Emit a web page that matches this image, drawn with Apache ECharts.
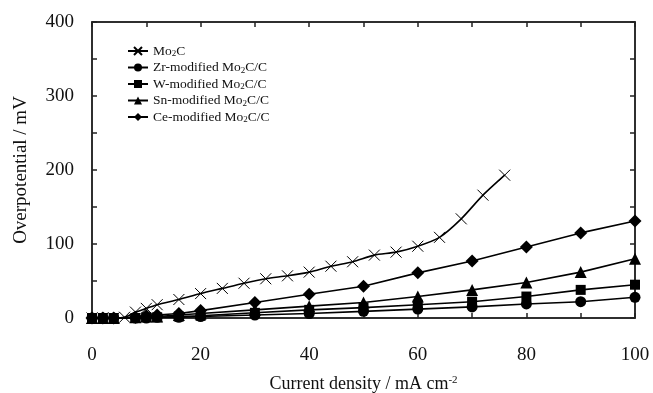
<!DOCTYPE html>
<html>
<head>
<meta charset="utf-8">
<script src="https://cdn.jsdelivr.net/npm/echarts@6/dist/echarts.min.js"></script>
<style>
  html, body { margin: 0; padding: 0; background: #fff; }
  #chart { width: 653px; height: 393px; }
</style>
</head>
<body>
<div id="chart"></div>
<script>
// current density (mA cm-2) and overpotential (mV)
const moX = [0, 2, 4, 6, 8, 10, 12, 16, 20, 24, 28, 32, 36, 40, 44, 48, 52, 56, 60, 64, 68, 72, 76];
const moY = [0, 0, 0, 1, 8, 13, 18, 25, 33, 40, 47, 53, 57, 62, 70, 76, 85, 89, 97, 109, 134, 166, 193];

const modX = [0, 2, 4, 8, 10, 12, 16, 20, 30, 40, 50, 60, 70, 80, 90, 100];
const zrY = [0, 0, 0, 0, 0, 1, 1, 2, 4, 6, 9, 12, 15, 19, 22, 28];
const wY  = [0, 0, 0, 0, 1, 1, 2, 3, 7, 11, 14, 18, 22, 29, 38, 45];
const snY = [0, 0, 0, 1, 2, 2, 4, 6, 11, 16, 21, 29, 38, 48, 62, 80];
const ceY = [0, 0, 0, 1, 3, 4, 6, 10, 21, 32, 43, 61, 77, 96, 115, 131];

const xTicks = [0, 20, 40, 60, 80, 100];
const yTicks = [0, 100, 200, 300, 400];

const pair = (xs, ys) => xs.map((x, i) => [x, ys[i]]);

const chartDom = document.getElementById('chart');
const chart = echarts.init(chartDom);

const font = 'Liberation Serif';
const crossPath = 'path://M0,0L10,10M10,0L0,10';

const mkSeries = (name, data, symbol, size, smooth) => ({
  name,
  type: 'line',
  data,
  symbol,
  symbolSize: size,
  smooth: smooth || false,
  xAxisIndex: 0,
  yAxisIndex: 0,
  lineStyle: { color: '#000', width: 1.6 },
  itemStyle: {
    color: '#000',
    borderColor: '#000',
    borderWidth: symbol === crossPath ? 1 : 0,
  },
  emphasis: { disabled: true },
  animation: false,
});

const rich = {
  n: { fontFamily: font, fontSize: 13.5, color: '#111' },
  s: { fontFamily: font, fontSize: 9, color: '#111', verticalAlign: 'bottom', padding: [6, 0, 0, 0] },
};

const legendNames = {
  'Mo2C': '{n|Mo}{s|2}{n|C}',
  'Zr-modified Mo2C/C': '{n|Zr-modified Mo}{s|2}{n|C/C}',
  'W-modified Mo2C/C': '{n|W-modified Mo}{s|2}{n|C/C}',
  'Sn-modified Mo2C/C': '{n|Sn-modified Mo}{s|2}{n|C/C}',
  'Ce-modified Mo2C/C': '{n|Ce-modified Mo}{s|2}{n|C/C}',
};

const tickLabel = (list) => (v) => (list.includes(v) ? String(v) : '');

const tickStyle = { show: true, inside: true, length: 5, lineStyle: { color: '#222', width: 1.5 } };
const lineStyle = { show: true, onZero: false, lineStyle: { color: '#222', width: 1.5 } };

const option = {
  backgroundColor: '#fff',
  animation: false,
  grid: {
    left: 92, right: 18, top: 22, bottom: 75, containLabel: false,
    outerBoundsMode: 'none',
    show: true, borderColor: '#222', borderWidth: 1.5, backgroundColor: 'transparent',
  },
  legend: {
    orient: 'vertical',
    left: 122,
    top: 39,
    itemWidth: 20,
    itemHeight: 10,
    itemGap: 2,
    data: Object.keys(legendNames),
    formatter: (name) => legendNames[name],
    textStyle: { rich },
  },
  xAxis: [
    {
      type: 'value',
      min: 0,
      max: 100,
      interval: 10,
      name: 'Current density / mA cm{sup|-2}',
      nameLocation: 'middle',
      nameGap: 57,
      nameTextStyle: {
        fontFamily: font,
        fontSize: 18,
        color: '#111',
        rich: { sup: { fontFamily: font, fontSize: 11, color: '#111', verticalAlign: 'top', padding: [0, 0, 8, 0] } },
      },
      axisLine: lineStyle,
      axisTick: tickStyle,
      axisLabel: {
        formatter: tickLabel(xTicks),
        fontFamily: font,
        fontSize: 19,
        color: '#111',
        margin: 28,
      },
      splitLine: { show: false },
    },
    {
      type: 'value',
      position: 'top',
      min: 0,
      max: 100,
      interval: 10,
      axisLine: lineStyle,
      axisTick: tickStyle,
      axisLabel: { show: false },
      splitLine: { show: false },
    },
  ],
  yAxis: [
    {
      type: 'value',
      min: 0,
      max: 400,
      interval: 50,
      name: 'Overpotential / mV',
      nameLocation: 'middle',
      nameGap: 61,
      nameTextStyle: { fontFamily: font, fontSize: 19, color: '#111' },
      axisLine: lineStyle,
      axisTick: tickStyle,
      axisLabel: {
        formatter: tickLabel(yTicks),
        fontFamily: font,
        fontSize: 19,
        color: '#111',
        margin: 18,
      },
      splitLine: { show: false },
    },
    {
      type: 'value',
      position: 'right',
      min: 0,
      max: 400,
      interval: 50,
      axisLine: lineStyle,
      axisTick: tickStyle,
      axisLabel: { show: false },
      splitLine: { show: false },
    },
  ],
  series: [
    mkSeries('Mo2C', pair(moX, moY), crossPath, 11, 0.25),
    mkSeries('Zr-modified Mo2C/C', pair(modX, zrY), 'circle', 11),
    mkSeries('W-modified Mo2C/C', pair(modX, wY), 'rect', 10),
    mkSeries('Sn-modified Mo2C/C', pair(modX, snY), 'triangle', 12),
    mkSeries('Ce-modified Mo2C/C', pair(modX, ceY), 'diamond', 13),
    // empty series so the mirrored top/right axes are laid out
    { type: 'line', data: [], xAxisIndex: 1, yAxisIndex: 1, silent: true },
  ],
};

chart.setOption(option);
window.addEventListener('resize', () => chart.resize());
</script>
</body>
</html>
